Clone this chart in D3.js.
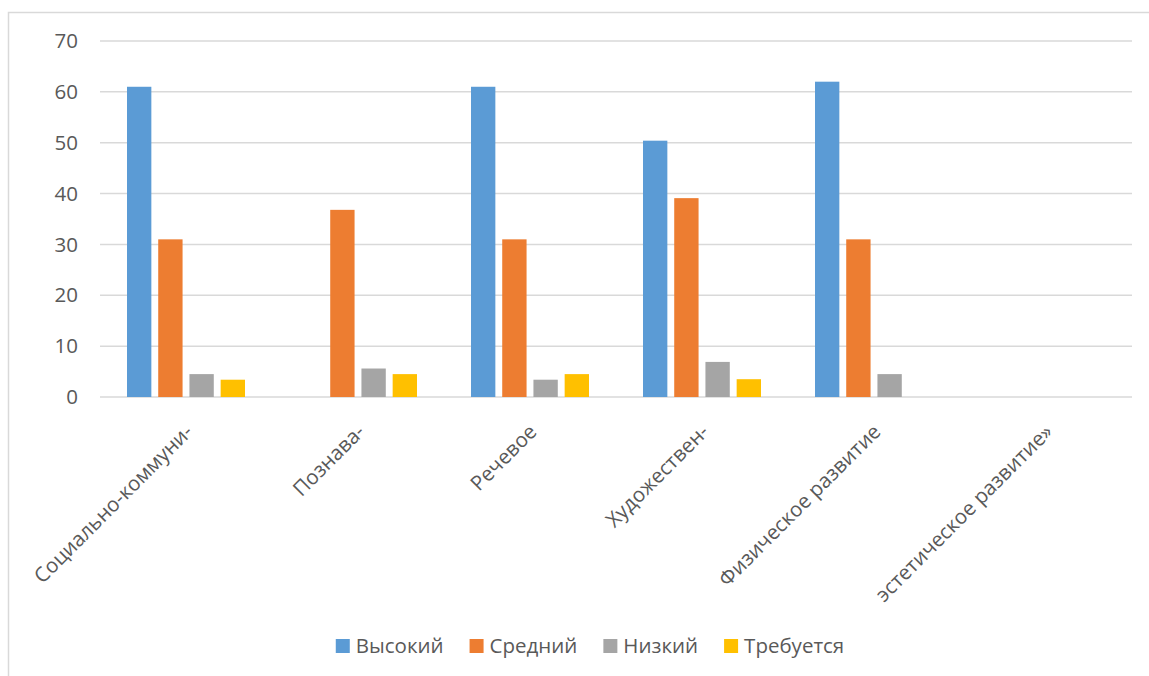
<!DOCTYPE html>
<html lang="ru">
<head>
<meta charset="utf-8">
<title>Уровни развития</title>
<script src="https://d3js.org/d3.v7.min.js"></script>
<style>
  body { margin: 0; background: #fff; }
  text { font-family: "Open Sans", "Noto Sans", sans-serif; fill: #595959; }
</style>
</head>
<body>
<svg id="chart"></svg>
<script>
// data
const categories = ['Социально-коммуни-', 'Познава-', 'Речевое', 'Художествен-', 'Физическое развитие', 'эстетическое развитие»'];
const series = ['Высокий', 'Средний', 'Низкий', 'Требуется'];
const vysokiy  = [61, 0, 61, 50.4, 62, 0];
const sredniy  = [31, 36.8, 31, 39.1, 31, 0];
const nizkiy   = [4.5, 5.6, 3.4, 6.9, 4.5, 0];
const trebuetsya = [3.4, 4.5, 4.5, 3.5, 0, 0];
const yTicks = [0, 10, 20, 30, 40, 50, 60, 70];

const values = [vysokiy, sredniy, nizkiy, trebuetsya];
const colors = ['#5B9BD5', '#ED7D31', '#A5A5A5', '#FFC000'];

const width = 1149, height = 676;
const fontSize = '20.5px';
const svg = d3.select('#chart').attr('width', width).attr('height', height);

svg.append('rect')
  .attr('x', 8.5).attr('y', 12.5)
  .attr('width', width).attr('height', height)
  .attr('fill', 'none').attr('stroke', '#D9D9D9').attr('stroke-width', 1.5);

const plot = { left: 100, right: 1132, top: 41, bottom: 397 };

const y = d3.scaleLinear().domain([0, 70]).range([plot.bottom, plot.top]);
const x0 = d3.scaleBand().domain(categories).range([plot.left, plot.right]);
const groupW = 118;
const x1 = d3.scaleBand().domain(series).range([0, groupW]).paddingInner(0.22);

// gridlines
svg.append('g')
  .selectAll('line')
  .data(yTicks)
  .join('line')
  .attr('x1', plot.left).attr('x2', plot.right)
  .attr('y1', d => y(d)).attr('y2', d => y(d))
  .attr('stroke', '#D9D9D9').attr('stroke-width', 1.5);

svg.append('g')
  .selectAll('text')
  .data(yTicks)
  .join('text')
  .attr('x', 78).attr('y', d => y(d))
  .attr('dy', '0.35em')
  .attr('text-anchor', 'end')
  .style('font-size', fontSize)
  .text(d => d);

// bars
series.forEach(function(s, si) {
  svg.append('g')
    .selectAll('rect')
    .data(categories)
    .join('rect')
    .attr('x', (c) => x0(c) + (x0.bandwidth() - groupW) / 2 + x1(s))
    .attr('width', x1.bandwidth())
    .attr('y', (c, i) => y(values[si][i]))
    .attr('height', (c, i) => plot.bottom - y(values[si][i]))
    .attr('fill', colors[si]);
});

// category labels, rotated, ending under the category centre
svg.append('g')
  .selectAll('text')
  .data(categories)
  .join('text')
  .attr('transform', c => 'translate(' + (x0(c) + x0.bandwidth() / 2 + 8) + ',' + 433 + ') rotate(-45)')
  .attr('text-anchor', 'end')
  .style('font-size', fontSize)
  .text(c => c);

// legend
const legend = svg.append('g').attr('transform', 'translate(0,639)');
const items = legend.selectAll('g')
  .data(series)
  .join('g');
items.append('rect')
  .attr('width', 14).attr('height', 14)
  .attr('fill', (s, i) => colors[i]);
items.append('text')
  .attr('x', 20).attr('y', 7).attr('dy', '0.35em')
  .style('font-size', fontSize)
  .text(s => s);

let lx = 0;
items.each(function() {
  const w = 20 + d3.select(this).select('text').node().getComputedTextLength();
  d3.select(this).attr('transform', 'translate(' + lx + ',0)');
  lx += w + 26;
});
legend.attr('transform', 'translate(' + (590 - (lx - 26) / 2) + ',639)');
</script>
</body>
</html>
